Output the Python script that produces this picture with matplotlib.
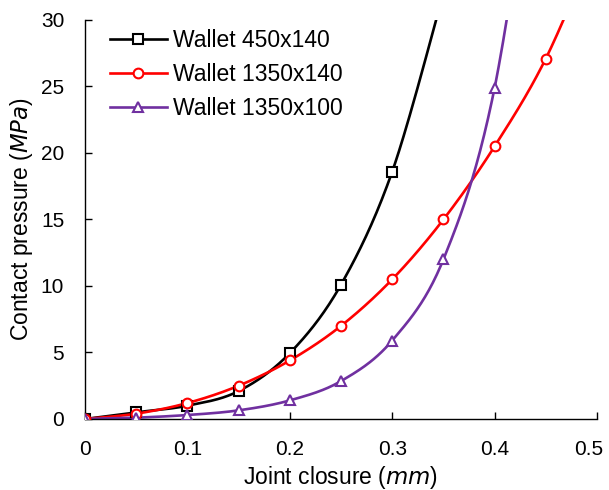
import numpy as np
import matplotlib
matplotlib.use('Agg')
import matplotlib.pyplot as plt
import matplotlib.transforms as mtransforms
from matplotlib.lines import Line2D

plt.rcParams['font.family'] = ['Liberation Sans', 'DejaVu Sans']

# joint closure (mm)
closure_450x140 = [0, 0.05, 0.1, 0.15, 0.2, 0.25, 0.3, 0.35]
closure_1350x140 = [0, 0.05, 0.1, 0.15, 0.2, 0.25, 0.3, 0.35, 0.4, 0.45, 0.5]
closure_1350x100 = [0, 0.05, 0.1, 0.15, 0.2, 0.25, 0.3, 0.35, 0.4, 0.45]

# contact pressure (MPa); last point of each series lies above the axis limit
pressure_450x140 = [0, 0.5, 1.0, 2.1, 4.95, 10.1, 18.6, 32.0]
pressure_1350x140 = [0, 0.4, 1.2, 2.5, 4.4, 7.0, 10.5, 15.0, 20.5, 27.1, 36.0]
pressure_1350x100 = [0, 0.1, 0.3, 0.65, 1.4, 2.85, 5.9, 12.0, 24.9, 50.0]

labels = ['Wallet 450x140', 'Wallet 1350x140', 'Wallet 1350x100']
colors = ['black', '#FF0000', '#7030A0']
markers = ['s', 'o', '^']


def smooth(x, y, n=40):
    # Excel style smoothed line: cubic Bezier with Catmull-Rom control points
    p = np.column_stack([x, y]).astype(float)
    pts = np.vstack([p[0], p, p[-1]])
    out = []
    t = np.linspace(0, 1, n)[:, None]
    for i in range(1, len(pts) - 2):
        p0, p1, p2, p3 = pts[i - 1], pts[i], pts[i + 1], pts[i + 2]
        c1 = p1 + (p2 - p0) / 6.0
        c2 = p2 - (p3 - p1) / 6.0
        seg = ((1 - t) ** 3) * p1 + 3 * ((1 - t) ** 2) * t * c1 + 3 * (1 - t) * t ** 2 * c2 + t ** 3 * p2
        out.append(seg)
    out = np.vstack(out)
    return out[:, 0], out[:, 1]


fig = plt.figure(figsize=(6.09, 4.90), dpi=100)
ax = fig.add_axes([0.1396, 0.1449, 0.8407, 0.8143])

series = [
    (closure_450x140, pressure_450x140),
    (closure_1350x140, pressure_1350x140),
    (closure_1350x100, pressure_1350x100),
]

handles = []
for (x, y), lab, col, mk in zip(series, labels, colors, markers):
    sx, sy = smooth(x, y)
    ax.plot(sx, sy, color=col, lw=1.9, zorder=2)
    ax.plot(x, y, ls='none', marker=mk, ms=7, mfc='white', mec=col, mew=1.5, zorder=3)
    handles.append(Line2D([], [], color=col, lw=1.9, marker=mk, ms=7,
                          mfc='white', mec=col, mew=1.5))

ax.set_xlim(0, 0.5)
ax.set_ylim(0, 30)
ax.set_xticks([0, 0.1, 0.2, 0.3, 0.4, 0.5])
ax.set_xticklabels(['0', '0.1', '0.2', '0.3', '0.4', '0.5'])
ax.set_yticks([0, 5, 10, 15, 20, 25, 30])
ax.spines['top'].set_visible(False)
ax.spines['right'].set_visible(False)
for s in ['left', 'bottom']:
    ax.spines[s].set_linewidth(1.0)
ax.tick_params(direction='in', length=5, width=1.0, labelsize=15)
ax.tick_params(axis='x', pad=15)
ax.tick_params(axis='y', pad=15)

# keep the last x label inside the figure, as the original does
last = ax.get_xticklabels()[-1]
last.set_transform(last.get_transform() +
                   mtransforms.ScaledTranslation(-6 / 72, 0, fig.dpi_scale_trans))

ax.set_xlabel('Joint closure ($\\it{mm}$)', fontsize=16.5, labelpad=4)
ax.set_ylabel('Contact pressure ($\\it{MPa}$)', fontsize=16.5, labelpad=4)

ax.legend(handles, labels, loc='upper left', bbox_to_anchor=(0.008, 1.03),
          frameon=False, fontsize=16.5, handlelength=2.5, handletextpad=0.27,
          labelspacing=0.49)

fig.savefig('out.png', dpi=100)
